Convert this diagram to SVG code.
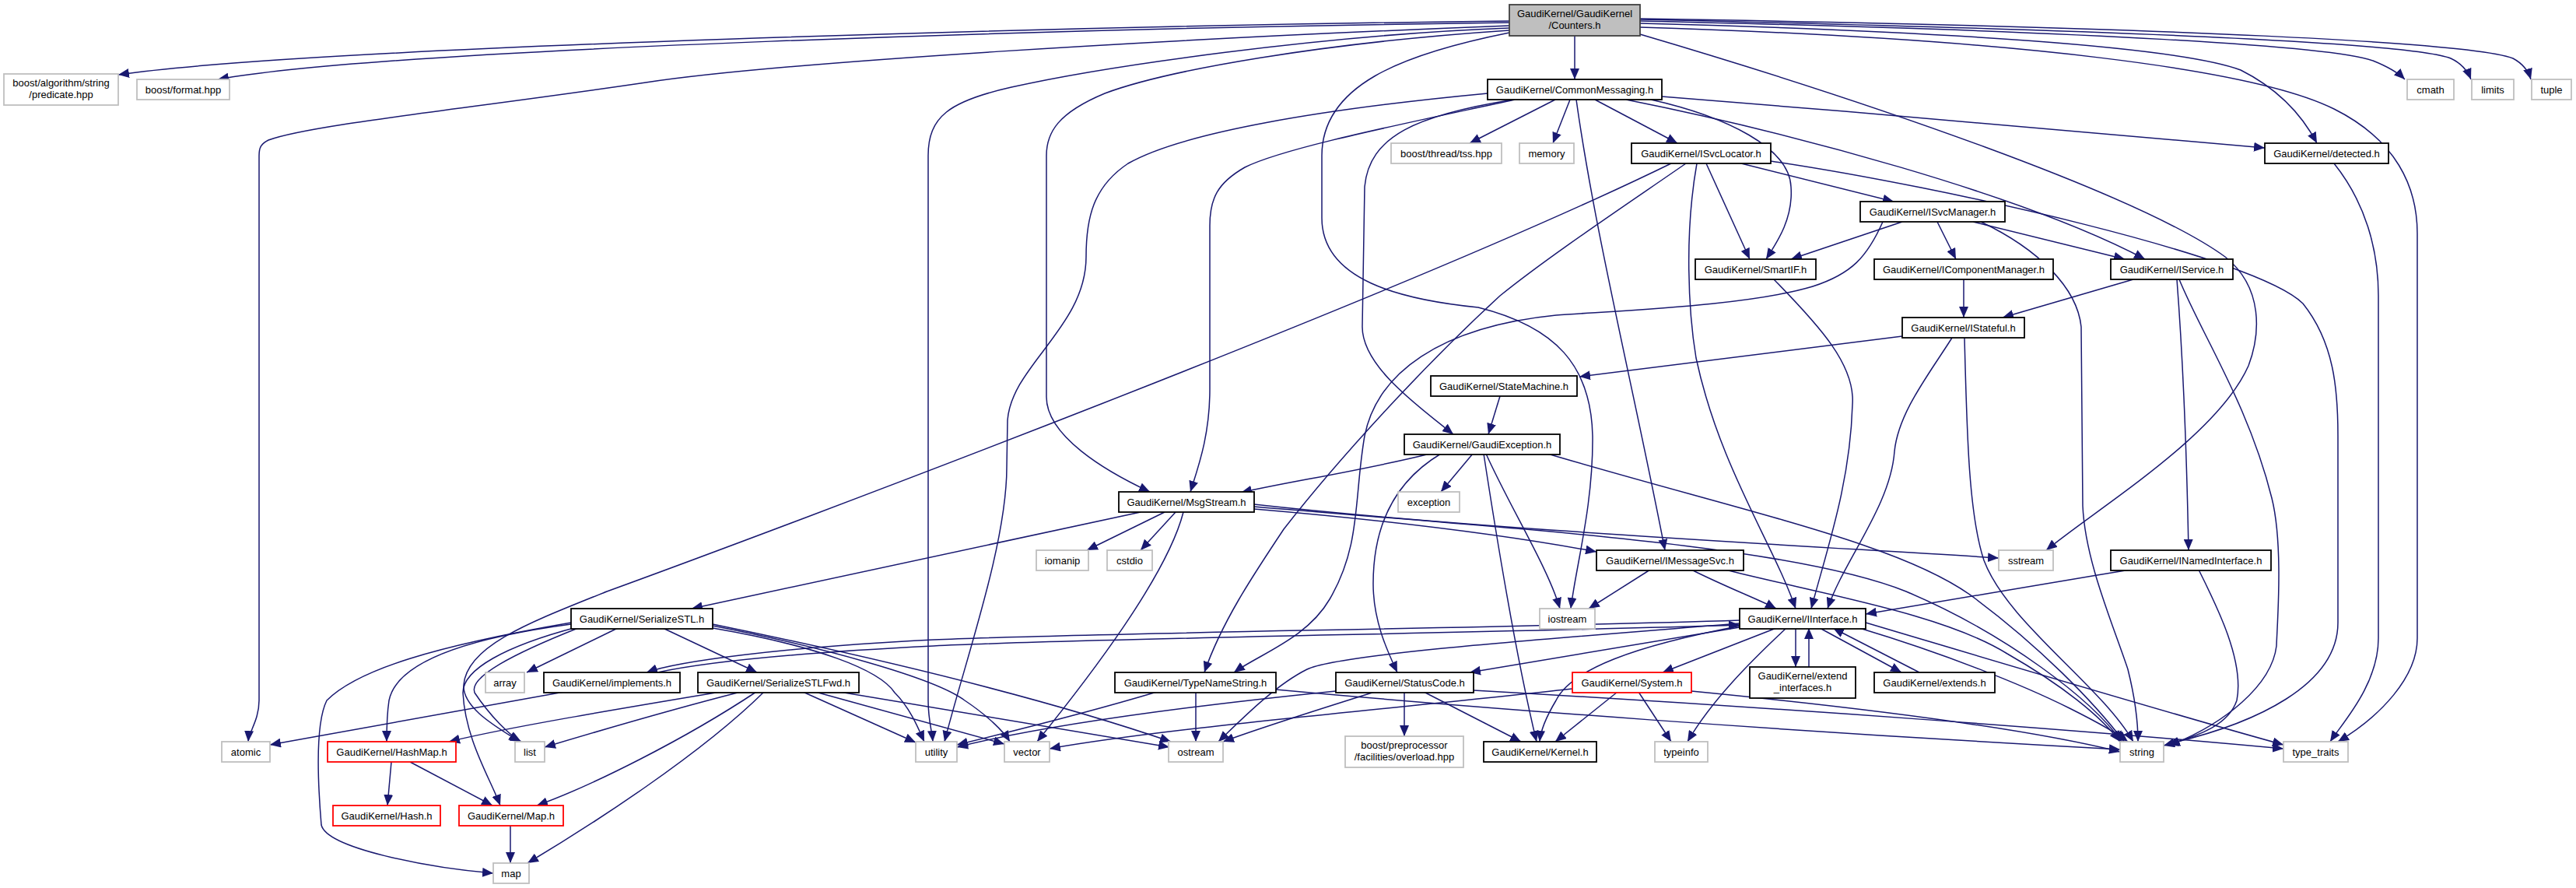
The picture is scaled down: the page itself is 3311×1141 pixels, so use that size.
<svg xmlns="http://www.w3.org/2000/svg" width="3311" height="1141" viewBox="0 0 3311 1141">
<defs>
<marker id="a" markerUnits="userSpaceOnUse" markerWidth="14" markerHeight="12" viewBox="0 0 14 12" refX="14" refY="6" orient="auto"><path d="M0,0 L14,6 L0,12 z" fill="#191970"/></marker>
<style>
rect{fill:#fff;stroke:#000;stroke-width:1.8}
rect.g{stroke:#bfbfbf}
rect.r{stroke:#ff0000}
rect.root{fill:#bfbfbf;stroke:#404040}
text{font-family:"Liberation Sans",Arial,Helvetica,sans-serif;font-size:13px;text-anchor:middle;fill:#000}
#edges path{fill:none;stroke:#191970;stroke-width:1.5;marker-end:url(#a)}
</style>
</defs>
<rect x="0" y="0" width="3311" height="1141" style="fill:#fff;stroke:none"/>
<g id="edges">
<path d="M1940,27 C1400,33 400,60 152,96"/>
<path d="M1940,29 C1400,36 500,62 280,102"/>
<path d="M1940,33 C1500,50 1000,80 830,106 C600,140 400,160 345,180 C335,185 333,190 333,200 L333,900 C333,925 320,940 319,953"/>
<path d="M2024,46 L2024,102"/>
<path d="M1940,36 C1700,45 1420,85 1300,112 C1220,130 1193,150 1193,200 L1193,900 C1193,925 1198,940 1199,953"/>
<path d="M1940,39 C1700,55 1500,90 1420,120 C1360,145 1345,170 1345,200 L1345,510 C1345,560 1420,605 1478,632"/>
<path d="M1940,42 C1800,70 1699,110 1699,200 L1699,280 C1699,360 1800,385 1900,395 C2000,420 2045,470 2047,560 C2048,650 2025,730 2019,782"/>
<path d="M2108,30 C2500,40 2800,60 2880,90 C2930,115 2960,150 2978,184"/>
<path d="M2108,27 C2700,40 3000,60 3050,78 C3070,86 3084,95 3091,102"/>
<path d="M2108,25 C2700,38 3100,55 3150,75 C3165,82 3172,92 3176,102"/>
<path d="M2108,24 C2800,35 3180,55 3230,75 C3243,82 3250,92 3253,102"/>
<path d="M2108,44 C2400,130 2750,250 2860,330 C2910,370 2905,430 2890,470 C2850,560 2700,650 2630,707"/>
<path d="M2108,35 C2600,50 2900,90 3000,140 C3080,180 3107,240 3107,300 L3107,820 C3107,870 3060,920 3005,953"/>
<path d="M1947,128 C1800,160 1650,190 1600,215 C1565,235 1555,255 1555,290 L1555,500 C1555,560 1540,600 1530,632"/>
<path d="M1912,120 C1700,140 1520,170 1450,210 C1405,240 1396,280 1396,330 C1396,420 1300,470 1295,540 L1294,600 C1294,700 1240,850 1214,953"/>
<path d="M1945,128 C1820,148 1760,175 1754,240 L1751,420 C1751,470 1820,520 1868,558"/>
<path d="M1999,128 L1889,184"/>
<path d="M2018,128 L1996,184"/>
<path d="M2026,128 C2050,300 2100,500 2140,707"/>
<path d="M2050,128 L2156,184"/>
<path d="M2122,128 C2220,150 2300,190 2302,240 C2305,280 2285,310 2270,333"/>
<path d="M2136,124 C2400,145 2700,170 2911,190"/>
<path d="M2090,128 C2300,170 2600,250 2757,333"/>
<path d="M2148,210 C1800,380 1000,680 780,760 C680,800 600,830 596,880 C594,910 640,935 668,953"/>
<path d="M2167,210 C2080,270 1990,330 1928,380 C1830,470 1720,590 1650,680 C1610,740 1570,800 1548,864"/>
<path d="M2193,210 L2249,333"/>
<path d="M2238,210 L2434,259"/>
<path d="M2181,210 C2165,300 2170,400 2180,460 C2210,600 2280,700 2308,782"/>
<path d="M2276,207 C2500,240 2900,330 2960,390 C3000,440 3005,500 3005,560 L3005,800 C3005,880 2900,930 2786,956"/>
<path d="M2445,285 L2302,333"/>
<path d="M2490,285 L2514,333"/>
<path d="M2536,285 L2731,333"/>
<path d="M2420,285 C2400,330 2380,352 2330,368 C2250,392 2100,398 2000,405 C1850,420 1770,480 1754,560 C1740,640 1750,700 1709,770 C1680,820 1620,840 1586,864"/>
<path d="M2546,285 C2620,320 2670,370 2675,420 L2677,650 C2680,720 2715,800 2735,860 C2745,900 2748,930 2748,953"/>
<path d="M2280,359 C2340,420 2385,470 2381,520 C2378,620 2350,700 2328,782"/>
<path d="M2524,359 L2524,408"/>
<path d="M2742,359 L2574,408"/>
<path d="M2798,359 C2805,450 2810,550 2813,707"/>
<path d="M2801,359 C2830,430 2890,520 2920,640 C2935,700 2927,800 2926,830 C2920,880 2860,930 2788,958"/>
<path d="M2445,432 L2030,484"/>
<path d="M2509,434 C2480,480 2440,530 2435,580 C2430,650 2370,720 2349,782"/>
<path d="M2525,434 C2528,550 2530,660 2550,720 C2580,800 2700,880 2742,953"/>
<path d="M1928,509 L1913,558"/>
<path d="M1838,583 C1750,605 1650,620 1595,633"/>
<path d="M1893,583 L1852,632"/>
<path d="M1910,583 C1940,650 1990,730 2005,782"/>
<path d="M1907,583 C1925,700 1950,850 1975,953"/>
<path d="M1852,583 C1790,620 1765,680 1765,750 C1765,800 1785,840 1796,864"/>
<path d="M1989,583 C2250,660 2450,700 2540,770 C2620,830 2690,900 2730,953"/>
<path d="M1466,658 L889,782"/>
<path d="M1497,658 L1397,707"/>
<path d="M1511,658 L1466,707"/>
<path d="M1521,658 C1500,740 1400,870 1333,953"/>
<path d="M1612,654 C1800,670 1950,690 2052,709"/>
<path d="M1612,648 C1900,680 2300,700 2569,717"/>
<path d="M1612,651 C1950,680 2300,700 2450,760 C2580,815 2690,900 2727,953"/>
<path d="M2174,732 C2220,755 2260,770 2283,782"/>
<path d="M2121,732 L2042,782"/>
<path d="M2217,732 C2350,765 2500,790 2580,840 C2650,880 2700,920 2725,953"/>
<path d="M2738,732 C2600,755 2450,780 2398,789"/>
<path d="M2826,732 C2850,780 2885,850 2875,900 C2865,930 2830,945 2781,958"/>
<path d="M794,807 L677,864"/>
<path d="M852,807 L973,864"/>
<path d="M734,802 C600,820 510,850 500,900 C497,920 497,940 497,953"/>
<path d="M741,806 C650,830 595,860 595,890 C598,950 630,1000 643,1035"/>
<path d="M743,807 C660,840 602,870 610,890 C630,920 655,945 670,953"/>
<path d="M734,800 C560,830 460,860 420,900 C405,930 408,1000 413,1060 C420,1090 550,1115 634,1122"/>
<path d="M916,802 C1150,850 1350,900 1505,953"/>
<path d="M916,807 C1050,830 1130,860 1150,890 C1170,910 1180,935 1188,953"/>
<path d="M916,804 C1050,830 1200,870 1240,900 C1270,920 1290,940 1298,953"/>
<path d="M2236,797 C1900,808 1400,813 1200,822 C1000,832 870,850 831,864"/>
<path d="M845,864 C900,852 1000,840 1200,830 C1400,820 1900,814 2236,803"/>
<path d="M725,889 L347,957"/>
<path d="M926,889 C800,910 650,935 577,953"/>
<path d="M952,889 C850,915 750,945 700,960"/>
<path d="M972,889 C880,950 760,1010 690,1035"/>
<path d="M982,889 C900,970 760,1060 678,1109"/>
<path d="M1032,889 L1177,954"/>
<path d="M1048,889 L1291,956"/>
<path d="M1079,889 L1503,960"/>
<path d="M1487,889 C1400,915 1300,940 1230,957"/>
<path d="M1537,889 L1537,953"/>
<path d="M1640,886 C1900,910 2300,940 2725,963"/>
<path d="M1805,889 L1805,946"/>
<path d="M1830,889 L1955,953"/>
<path d="M1767,889 C1700,910 1620,935 1572,953"/>
<path d="M1717,888 C1550,905 1350,930 1230,960"/>
<path d="M1894,887 C2300,910 2700,940 2935,962"/>
<path d="M2079,889 L1999,953"/>
<path d="M2106,889 L2148,953"/>
<path d="M2021,885 C1800,910 1500,935 1349,962"/>
<path d="M2174,888 C2400,910 2600,935 2725,966"/>
<path d="M2236,806 L1889,864"/>
<path d="M2283,807 L2137,864"/>
<path d="M2308,807 L2308,857"/>
<path d="M2325,857 L2325,807"/>
<path d="M2339,807 L2444,864"/>
<path d="M2467,864 L2356,807"/>
<path d="M2238,804 C2100,830 2020,860 2000,900 C1985,925 1980,940 1979,953"/>
<path d="M2296,807 C2250,850 2200,900 2169,953"/>
<path d="M2236,801 C2000,820 1720,840 1680,860 C1640,880 1600,920 1566,953"/>
<path d="M2390,807 C2500,840 2600,880 2660,910 C2700,930 2725,945 2735,953"/>
<path d="M2398,800 C2600,860 2800,920 2935,957"/>
<path d="M3000,210 C3040,260 3057,320 3057,380 L3057,820 C3057,880 3010,930 2995,953"/>
<path d="M503,979 L498,1035"/>
<path d="M527,979 L633,1035"/>
<path d="M656,1061 L656,1109"/>
</g>
<g id="n1"><rect class="root" x="1940" y="6" width="168" height="40"/><text x="2024" y="22">GaudiKernel/GaudiKernel</text><text x="2024" y="37">/Counters.h</text></g>
<g id="n2"><rect class="g" x="5" y="95" width="147" height="40"/><text x="78.5" y="111">boost/algorithm/string</text><text x="78.5" y="126">/predicate.hpp</text></g>
<g id="n3"><rect class="g" x="176" y="102" width="119" height="26"/><text x="235.5" y="119.5">boost/format.hpp</text></g>
<g id="n4"><rect x="1912" y="102" width="224" height="26"/><text x="2024" y="119.5">GaudiKernel/CommonMessaging.h</text></g>
<g id="n5"><rect class="g" x="3094" y="102" width="60" height="26"/><text x="3124" y="119.5">cmath</text></g>
<g id="n6"><rect class="g" x="3177" y="102" width="54" height="26"/><text x="3204" y="119.5">limits</text></g>
<g id="n7"><rect class="g" x="3254" y="102" width="51" height="26"/><text x="3279.5" y="119.5">tuple</text></g>
<g id="n8"><rect class="g" x="1788" y="184" width="142" height="26"/><text x="1859" y="201.5">boost/thread/tss.hpp</text></g>
<g id="n9"><rect class="g" x="1953" y="184" width="70" height="26"/><text x="1988" y="201.5">memory</text></g>
<g id="n10"><rect x="2097" y="184" width="179" height="26"/><text x="2186.5" y="201.5">GaudiKernel/ISvcLocator.h</text></g>
<g id="n11"><rect x="2911" y="184" width="159" height="26"/><text x="2990.5" y="201.5">GaudiKernel/detected.h</text></g>
<g id="n12"><rect x="2391" y="259" width="186" height="26"/><text x="2484" y="276.5">GaudiKernel/ISvcManager.h</text></g>
<g id="n13"><rect x="2179" y="333" width="155" height="26"/><text x="2256.5" y="350.5">GaudiKernel/SmartIF.h</text></g>
<g id="n14"><rect x="2409" y="333" width="230" height="26"/><text x="2524" y="350.5">GaudiKernel/IComponentManager.h</text></g>
<g id="n15"><rect x="2713" y="333" width="157" height="26"/><text x="2791.5" y="350.5">GaudiKernel/IService.h</text></g>
<g id="n16"><rect x="2445" y="408" width="157" height="26"/><text x="2523.5" y="425.5">GaudiKernel/IStateful.h</text></g>
<g id="n17"><rect x="1839" y="483" width="188" height="26"/><text x="1933" y="500.5">GaudiKernel/StateMachine.h</text></g>
<g id="n18"><rect x="1805" y="558" width="200" height="26"/><text x="1905" y="575.5">GaudiKernel/GaudiException.h</text></g>
<g id="n19"><rect x="1438" y="632" width="174" height="26"/><text x="1525" y="649.5">GaudiKernel/MsgStream.h</text></g>
<g id="n20"><rect class="g" x="1797" y="632" width="79" height="26"/><text x="1836.5" y="649.5">exception</text></g>
<g id="n21"><rect class="g" x="1332" y="707" width="67" height="26"/><text x="1365.5" y="724.5">iomanip</text></g>
<g id="n22"><rect class="g" x="1423" y="707" width="58" height="26"/><text x="1452" y="724.5">cstdio</text></g>
<g id="n23"><rect x="2052" y="707" width="189" height="26"/><text x="2146.5" y="724.5">GaudiKernel/IMessageSvc.h</text></g>
<g id="n24"><rect class="g" x="2569" y="707" width="70" height="26"/><text x="2604" y="724.5">sstream</text></g>
<g id="n25"><rect x="2713" y="707" width="206" height="26"/><text x="2816" y="724.5">GaudiKernel/INamedInterface.h</text></g>
<g id="n26"><rect x="734" y="782" width="182" height="26"/><text x="825" y="799.5">GaudiKernel/SerializeSTL.h</text></g>
<g id="n27"><rect class="g" x="1979" y="782" width="71" height="26"/><text x="2014.5" y="799.5">iostream</text></g>
<g id="n28"><rect x="2236" y="782" width="162" height="26"/><text x="2317" y="799.5">GaudiKernel/IInterface.h</text></g>
<g id="n29"><rect class="g" x="624" y="864" width="50" height="26"/><text x="649" y="881.5">array</text></g>
<g id="n30"><rect x="699" y="864" width="175" height="26"/><text x="786.5" y="881.5">GaudiKernel/implements.h</text></g>
<g id="n31"><rect x="897" y="864" width="207" height="26"/><text x="1000.5" y="881.5">GaudiKernel/SerializeSTLFwd.h</text></g>
<g id="n32"><rect x="1433" y="864" width="207" height="26"/><text x="1536.5" y="881.5">GaudiKernel/TypeNameString.h</text></g>
<g id="n33"><rect x="1717" y="864" width="177" height="26"/><text x="1805.5" y="881.5">GaudiKernel/StatusCode.h</text></g>
<g id="n34"><rect class="r" x="2021" y="864" width="153" height="26"/><text x="2097.5" y="881.5">GaudiKernel/System.h</text></g>
<g id="n35"><rect x="2249" y="857" width="136" height="40"/><text x="2317" y="873">GaudiKernel/extend</text><text x="2317" y="888">_interfaces.h</text></g>
<g id="n36"><rect x="2409" y="864" width="155" height="26"/><text x="2486.5" y="881.5">GaudiKernel/extends.h</text></g>
<g id="n37"><rect class="g" x="285" y="953" width="62" height="26"/><text x="316" y="970.5">atomic</text></g>
<g id="n38"><rect class="r" x="421" y="953" width="165" height="26"/><text x="503.5" y="970.5">GaudiKernel/HashMap.h</text></g>
<g id="n39"><rect class="g" x="662" y="953" width="38" height="26"/><text x="681" y="970.5">list</text></g>
<g id="n40"><rect class="g" x="1177" y="953" width="53" height="26"/><text x="1203.5" y="970.5">utility</text></g>
<g id="n41"><rect class="g" x="1291" y="953" width="58" height="26"/><text x="1320" y="970.5">vector</text></g>
<g id="n42"><rect class="g" x="1502" y="953" width="70" height="26"/><text x="1537" y="970.5">ostream</text></g>
<g id="n43"><rect class="g" x="1729" y="946" width="152" height="40"/><text x="1805" y="962">boost/preprocessor</text><text x="1805" y="977">/facilities/overload.hpp</text></g>
<g id="n44"><rect x="1907" y="953" width="145" height="26"/><text x="1979.5" y="970.5">GaudiKernel/Kernel.h</text></g>
<g id="n45"><rect class="g" x="2127" y="953" width="68" height="26"/><text x="2161" y="970.5">typeinfo</text></g>
<g id="n46"><rect class="g" x="2725" y="953" width="56" height="26"/><text x="2753" y="970.5">string</text></g>
<g id="n47"><rect class="g" x="2935" y="953" width="83" height="26"/><text x="2976.5" y="970.5">type_traits</text></g>
<g id="n48"><rect class="r" x="428" y="1035" width="138" height="26"/><text x="497" y="1052.5">GaudiKernel/Hash.h</text></g>
<g id="n49"><rect class="r" x="590" y="1035" width="134" height="26"/><text x="657" y="1052.5">GaudiKernel/Map.h</text></g>
<g id="n50"><rect class="g" x="634" y="1109" width="46" height="26"/><text x="657" y="1126.5">map</text></g>
</svg>
